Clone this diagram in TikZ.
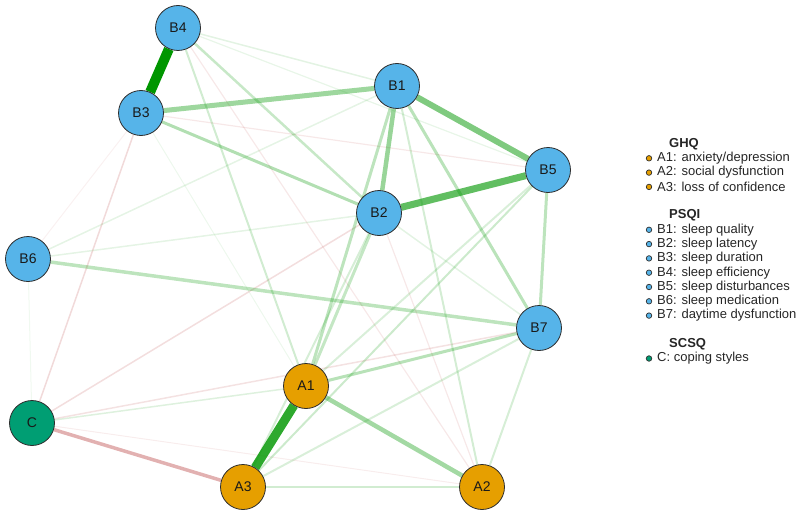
\documentclass[tikz,border=0pt]{standalone}
\usepackage{fontspec}
\setmainfont{Liberation Sans}
\usetikzlibrary{backgrounds}
\definecolor{gbase}{RGB}{0,150,0}
\definecolor{rbase}{RGB}{180,50,50}
\definecolor{cblue}{RGB}{86,180,233}
\definecolor{corange}{RGB}{230,159,0}
\definecolor{cgreen}{RGB}{0,158,115}
\definecolor{cborder}{RGB}{45,45,45}
\begin{document}
\begin{tikzpicture}[x=1pt,y=-1pt,
  nd/.style={circle,draw=cborder,line width=0.8pt,minimum size=45pt,inner sep=0pt,
    font=\fontsize{14}{14}\selectfont,text=black!90},
  ge/.style 2 args={draw=gbase,line width=#1pt,draw opacity=#2},
  re/.style 2 args={draw=rbase,line width=#1pt,draw opacity=#2},
  legtxt/.style={anchor=west,inner sep=0pt,font=\fontsize{13}{13}\selectfont,text=black!85},
  leghead/.style={anchor=west,inner sep=0pt,font=\bfseries\fontsize{13}{13}\selectfont,text=black!85},
  bullet/.style={circle,draw=cborder,line width=0.7pt,minimum size=5.5pt,inner sep=0pt}]
\useasboundingbox (0,0) rectangle (800,516);

% nodes
\node[nd,fill=cblue] (B4) at (178,28) {B4};
\node[nd,fill=cblue] (B3) at (141,113) {B3};
\node[nd,fill=cblue] (B1) at (397,86) {B1};
\node[nd,fill=cblue] (B5) at (548,170) {B5};
\node[nd,fill=cblue] (B2) at (379,213) {B2};
\node[nd,fill=cblue] (B6) at (28,259) {B6};
\node[nd,fill=cblue] (B7) at (539,328) {B7};
\node[nd,fill=corange] (A1) at (306,386) {A1};
\node[nd,fill=cgreen] (C) at (32,423) {C};
\node[nd,fill=corange] (A3) at (243,487) {A3};
\node[nd,fill=corange] (A2) at (482,487) {A2};

\begin{scope}[on background layer]
% faint edges
\draw[ge={1}{0.06}] (C) -- (B6);
\draw[ge={1}{0.07}] (B3) -- (A1);
\draw[re={1}{0.07}] (B3) -- (B6);
\draw[re={1}{0.09}] (C) -- (A2);
\draw[ge={1.2}{0.09}] (B4) -- (B5);
\draw[re={1.2}{0.11}] (B3) -- (B5);
\draw[re={1.2}{0.11}] (B4) -- (A2);
\draw[re={1.2}{0.11}] (A2) -- (B2);
\draw[ge={1.5}{0.1}] (B6) -- (B2);
\draw[ge={1.5}{0.1}] (B6) -- (B1);
\draw[ge={1.5}{0.11}] (B4) -- (B1);
\draw[ge={1.5}{0.11}] (B2) -- (B7);
\draw[ge={1.5}{0.13}] (C) -- (A1);
\draw[re={1.5}{0.18}] (C) -- (B3);
\draw[re={1.5}{0.16}] (C) -- (B2);
\draw[re={1.5}{0.14}] (C) -- (B7);
% medium edges
\draw[ge={2}{0.15}] (A3) -- (B7);
\draw[ge={2}{0.15}] (A1) -- (B5);
\draw[ge={2}{0.16}] (A2) -- (B7);
\draw[ge={2}{0.17}] (A2) -- (B1);
\draw[ge={2}{0.16}] (B2) -- (A3);
\draw[ge={2}{0.2}] (A3) -- (B5);
\draw[ge={2}{0.18}] (B4) -- (A1);
\draw[ge={2.5}{0.18}] (A3) -- (A2);
\draw[ge={2.5}{0.22}] (B4) -- (B2);
\draw[ge={3}{0.23}] (B2) -- (A1);
\draw[ge={3}{0.26}] (B1) -- (A1);
\draw[ge={3}{0.27}] (B1) -- (B7);
\draw[ge={3}{0.3}] (B3) -- (B2);
\draw[ge={3}{0.26}] (B5) -- (B7);
\draw[ge={3}{0.28}] (A1) -- (B7);
\draw[ge={3.5}{0.26}] (B6) -- (B7);
\draw[re={3.5}{0.38}] (C) -- (A3);
% strong edges
\draw[ge={4.5}{0.36}] (A1) -- (A2);
\draw[ge={4.5}{0.4}] (B1) -- (B2);
\draw[ge={5}{0.38}] (B1) -- (B3);
\draw[ge={6}{0.5}] (B1) -- (B5);
\draw[ge={7}{0.62}] (B2) -- (B5);
\draw[ge={9}{0.82}] (A1) -- (A3);
\draw[ge={10}{1}] (B3) -- (B4);
\end{scope}

% legend
\node[leghead] (hG) at (669,144) {GHQ};
\node[bullet,fill=corange] (lA1) at (649,158.3) {};
\node[legtxt] (tA1) at (657,158.3) {A1: anxiety/depression};
\node[bullet,fill=corange] (lA2) at (649,172.6) {};
\node[legtxt] (tA2) at (657,172.6) {A2: social dysfunction};
\node[bullet,fill=corange] (lA3) at (649,186.9) {};
\node[legtxt] (tA3) at (657,186.9) {A3: loss of confidence};
\node[leghead] (hP) at (669,215.5) {PSQI};
\node[bullet,fill=cblue] (lB1) at (649,229.8) {};
\node[legtxt] (tB1) at (657,229.8) {B1: sleep quality};
\node[bullet,fill=cblue] (lB2) at (649,244.1) {};
\node[legtxt] (tB2) at (657,244.1) {B2: sleep latency};
\node[bullet,fill=cblue] (lB3) at (649,258.4) {};
\node[legtxt] (tB3) at (657,258.4) {B3: sleep duration};
\node[bullet,fill=cblue] (lB4) at (649,272.7) {};
\node[legtxt] (tB4) at (657,272.7) {B4: sleep efficiency};
\node[bullet,fill=cblue] (lB5) at (649,287) {};
\node[legtxt] (tB5) at (657,287) {B5: sleep disturbances};
\node[bullet,fill=cblue] (lB6) at (649,301.3) {};
\node[legtxt] (tB6) at (657,301.3) {B6: sleep medication};
\node[bullet,fill=cblue] (lB7) at (649,315.6) {};
\node[legtxt] (tB7) at (657,315.6) {B7: daytime dysfunction};
\node[leghead] (hS) at (669,344.2) {SCSQ};
\node[bullet,fill=cgreen] (lC) at (649,358.5) {};
\node[legtxt] (tC) at (657,358.5) {C: coping styles};
\end{tikzpicture}
\end{document}
